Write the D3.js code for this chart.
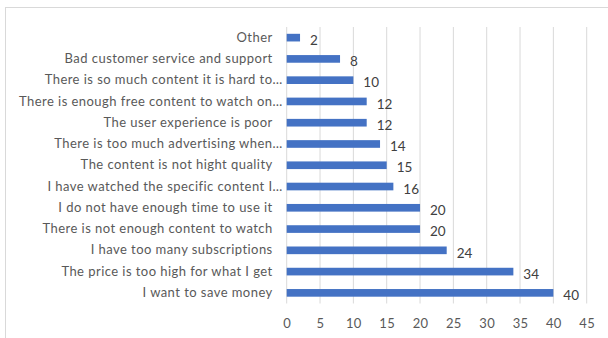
<!DOCTYPE html>
<html><head><meta charset="utf-8">
<script src="https://cdn.jsdelivr.net/npm/d3@7"></script>
<style>body{margin:0;background:#fff}svg{display:block}</style>
</head><body>
<svg id="c" width="608" height="338"></svg>
<script>
const categories = ["Other","Bad customer service and support","There is so much content it is hard to\u2026","There is enough free content to watch on\u2026","The user experience is poor","There is too much advertising when\u2026","The content is not hight quality","I have watched the specific content I\u2026","I do not have enough time to use it","There is not enough content to watch","I have too many subscriptions","The price is too high for what I get","I want to save money"];
const values = [2,8,10,12,12,14,15,16,20,20,24,34,40];
const ticks = [0,5,10,15,20,25,30,35,40,45];

const svg = d3.select("#c");
const font = "Lato, 'Open Sans', sans-serif";
svg.append("rect").attr("x",5.5).attr("y",7.5).attr("width",700).attr("height",400)
  .attr("fill","#fff").attr("stroke","#d9d9d9");

const x = d3.scaleLinear().domain([0,45]).range([286.7,586.7]);
const y = d3.scaleBand().domain(categories).range([27,303.5]).paddingInner(0.64).paddingOuter(0.32);

svg.append("g").selectAll("line").data(ticks).join("line")
  .attr("x1",d=>x(d)).attr("x2",d=>x(d)).attr("y1",27).attr("y2",303.5)
  .attr("stroke","#d9d9d9").attr("stroke-width",1);

const xa = svg.append("g").attr("transform","translate(0,303.5)")
  .call(d3.axisBottom(x).tickValues(ticks).tickSize(0).tickPadding(15));
xa.select(".domain").remove();
xa.selectAll("text").attr("fill","#595959").style("font-family",font).style("font-size","13px").style("letter-spacing","0.3px");

svg.append("g").selectAll("rect").data(values).join("rect")
  .attr("x",x(0)).attr("y",(d,i)=>y(categories[i]))
  .attr("width",d=>x(d)-x(0)).attr("height",y.bandwidth())
  .attr("fill","#4472C4");

const ya = svg.append("g").attr("transform","translate("+x(0)+",0)")
  .call(d3.axisLeft(y).tickSize(0).tickPadding(14));
ya.select(".domain").remove();
ya.selectAll("text").attr("fill","#595959").style("font-family",font).style("font-size","13px").style("letter-spacing","0.45px")
  .attr("x",d=>d.endsWith("\u2026") ? -4 : -14);

svg.append("g").selectAll("text").data(values).join("text")
  .attr("x",d=>x(d)+10).attr("y",(d,i)=>y(categories[i])+y.bandwidth()/2+2.5)
  .attr("dy","0.35em").attr("fill","#404040")
  .style("font-family",font).style("font-size","13.5px").text(d=>d);
</script>
</body></html>
